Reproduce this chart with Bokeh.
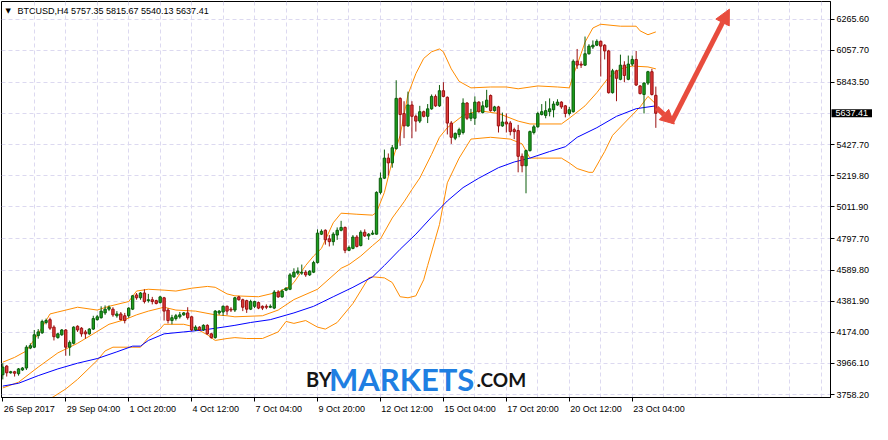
from bokeh.plotting import figure
from bokeh.models import (ColumnDataSource, Range1d, LinearAxis, FixedTicker, Grid,
                          Label, Arrow, NormalHead, NumeralTickFormatter)
from bokeh.embed import file_html
from bokeh.resources import INLINE

# ---------------- data (BTCUSD, H4) ----------------
opens = [3891, 3949, 3904, 3911, 3898, 3923, 3936, 4069, 4075, 4152,
         4171, 4240, 4259, 4209, 4139, 4158, 4190, 4075, 4101, 4215,
         4202, 4177, 4164, 4196, 4259, 4272, 4304, 4329, 4329, 4285,
         4297, 4285, 4285, 4329, 4424, 4405, 4437, 4386, 4392, 4386,
         4373, 4405, 4323, 4253, 4266, 4278, 4291, 4304, 4278, 4190,
         4209, 4190, 4221, 4164, 4139, 4304, 4310, 4348, 4329, 4323,
         4411, 4392, 4386, 4329, 4348, 4373, 4348, 4348, 4342, 4336,
         4443, 4411, 4456, 4462, 4545, 4570, 4570, 4576, 4558, 4576,
         4640, 4830, 4856, 4799, 4780, 4824, 4856, 4875, 4722, 4735,
         4811, 4754, 4843, 4818, 4830, 4830, 5109, 5204, 5338, 5306,
         5401, 5737, 5636, 5553, 5693, 5617, 5585, 5648, 5617, 5667,
         5750, 5687, 5788, 5744, 5572, 5471, 5496, 5509, 5706, 5604,
         5604, 5712, 5642, 5680, 5756, 5655, 5680, 5553, 5579, 5572,
         5528, 5522, 5350, 5287, 5388, 5509, 5547, 5629, 5623, 5648,
         5661, 5693, 5712, 5687, 5636, 5648, 5985, 5966, 5959, 6035,
         6080, 6092, 6118, 6092, 6054, 5775, 5921, 5864, 5959, 5864,
         5966, 5997, 5820, 5763, 5839, 5915, 5757.35]
highs = [3968, 3955, 3917, 3917, 3936, 3942, 4088, 4101, 4190, 4196,
         4259, 4266, 4272, 4221, 4171, 4196, 4196, 4120, 4215, 4221,
         4209, 4190, 4202, 4285, 4291, 4348, 4354, 4354, 4342, 4316,
         4310, 4304, 4342, 4424, 4437, 4443, 4462, 4431, 4411, 4392,
         4418, 4411, 4336, 4291, 4297, 4310, 4310, 4342, 4285, 4221,
         4215, 4228, 4228, 4171, 4323, 4323, 4354, 4354, 4342, 4411,
         4418, 4399, 4392, 4392, 4386, 4380, 4354, 4361, 4361, 4456,
         4456, 4462, 4475, 4570, 4602, 4608, 4627, 4589, 4589, 4652,
         4862, 4862, 4862, 4824, 4843, 4875, 4919, 4881, 4754, 4824,
         4824, 4856, 4862, 4837, 4856, 5116, 5242, 5395, 5369, 5426,
         5858, 5744, 5718, 5782, 5718, 5629, 5687, 5655, 5699, 5763,
         5763, 5826, 5845, 5750, 5585, 5509, 5541, 5737, 5712, 5667,
         5750, 5718, 5718, 5794, 5763, 5687, 5687, 5642, 5636, 5585,
         5541, 5560, 5369, 5395, 5522, 5560, 5648, 5699, 5718, 5737,
         5718, 5731, 5718, 5693, 5680, 5997, 6067, 5985, 6150, 6099,
         6124, 6131, 6124, 6099, 6061, 5934, 5928, 6029, 5985, 6023,
         6023, 6054, 5826, 5845, 5921, 5934, 5815.67]
lows = [3860, 3879, 3898, 3879, 3885, 3917, 3923, 4062, 4069, 4132,
        4164, 4228, 4190, 4120, 4132, 4151, 4018, 4018, 4094, 4177,
        4145, 4132, 4158, 4190, 4253, 4266, 4291, 4316, 4278, 4272,
        4253, 4234, 4272, 4323, 4392, 4392, 4367, 4373, 4361, 4361,
        4367, 4253, 4234, 4228, 4253, 4266, 4285, 4259, 4183, 4183,
        4183, 4183, 4158, 4132, 4132, 4291, 4285, 4291, 4310, 4310,
        4386, 4316, 4304, 4323, 4336, 4329, 4323, 4329, 4336, 4329,
        4405, 4405, 4450, 4456, 4538, 4558, 4558, 4545, 4551, 4570,
        4634, 4824, 4760, 4748, 4754, 4792, 4849, 4703, 4716, 4729,
        4741, 4748, 4811, 4792, 4824, 4827, 5096, 5198, 5223, 5274,
        5395, 5420, 5471, 5547, 5471, 5515, 5572, 5610, 5572, 5661,
        5680, 5680, 5744, 5496, 5433, 5458, 5477, 5496, 5592, 5585,
        5560, 5642, 5636, 5674, 5648, 5648, 5509, 5547, 5509, 5490,
        5465, 5243, 5243, 5103, 5382, 5496, 5541, 5623, 5604, 5617,
        5610, 5687, 5667, 5610, 5623, 5642, 5934, 5940, 5953, 6029,
        6067, 6086, 5883, 5997, 5769, 5769, 5718, 5858, 5845, 5858,
        5953, 5820, 5763, 5636, 5826, 5756, 5540.13]
closes = [3942, 3904, 3911, 3901, 3930, 3936, 4075, 4085, 4158, 4177,
          4247, 4253, 4202, 4145, 4164, 4190, 4075, 4107, 4209, 4190,
          4164, 4164, 4196, 4266, 4278, 4316, 4329, 4342, 4291, 4297,
          4259, 4253, 4336, 4418, 4405, 4437, 4380, 4392, 4380, 4367,
          4411, 4316, 4253, 4272, 4285, 4291, 4304, 4272, 4190, 4209,
          4190, 4221, 4164, 4139, 4316, 4316, 4348, 4316, 4323, 4405,
          4392, 4342, 4329, 4380, 4380, 4336, 4336, 4342, 4348, 4443,
          4411, 4450, 4469, 4558, 4576, 4583, 4576, 4558, 4583, 4640,
          4837, 4849, 4792, 4780, 4830, 4856, 4875, 4722, 4741, 4811,
          4748, 4843, 4818, 4830, 4837, 5109, 5204, 5338, 5306, 5407,
          5737, 5629, 5553, 5693, 5617, 5585, 5648, 5617, 5667, 5750,
          5687, 5788, 5750, 5572, 5477, 5503, 5528, 5706, 5604, 5636,
          5712, 5648, 5687, 5725, 5655, 5680, 5553, 5579, 5566, 5515,
          5515, 5350, 5287, 5388, 5515, 5547, 5636, 5648, 5655, 5667,
          5699, 5712, 5680, 5636, 5661, 5985, 5959, 5959, 6035, 6086,
          6092, 6118, 6086, 6054, 5775, 5921, 5871, 5959, 5890, 5966,
          5997, 5826, 5769, 5839, 5915, 5763, 5637.41]

upper_idx = [0, 3, 6, 9, 12, 14, 19, 24, 27, 32, 34, 37, 41, 44, 48, 52, 54, 57, 59, 65,
             70, 73, 74, 77, 79, 81, 84, 86, 90, 94, 95, 97, 99, 101, 103, 105, 107, 109,
             111, 112, 114, 116, 119, 124, 128, 131, 136, 141, 144, 145, 147, 148, 150,
             152, 157, 161, 162, 164, 166]
upper_val = [3975, 4007, 4050, 4164, 4297, 4310, 4342, 4323, 4348, 4380, 4450, 4462, 4456,
             4450, 4469, 4481, 4475, 4431, 4418, 4412, 4443, 4481, 4507, 4621, 4684, 4735,
             4906, 4970, 4963, 4957, 4976, 5109, 5319, 5490, 5763, 5902, 6004, 6048, 6067,
             6048, 5934, 5851, 5807, 5813, 5813, 5801, 5820, 5813, 5807, 5890, 6035, 6112,
             6207, 6232, 6219, 6219, 6188, 6162, 6181]
middle_idx = [0, 4, 9, 14, 19, 23, 27, 31, 34, 37, 41, 44, 49, 54, 57, 59, 66, 70, 74, 80,
              86, 88, 91, 94, 96, 99, 102, 104, 106, 109, 111, 113, 117, 121, 126, 131, 134,
              142, 144, 148, 151, 154, 157, 160, 164, 166]
middle_val = [3803, 3841, 3942, 4037, 4101, 4164, 4228, 4259, 4291, 4316, 4342, 4323, 4316,
              4291, 4285, 4278, 4285, 4323, 4393, 4462, 4602, 4627, 4684, 4754, 4798, 4938,
              5046, 5128, 5205, 5363, 5477, 5541, 5623, 5655, 5636, 5585, 5566, 5566, 5604,
              5687, 5775, 5877, 5934, 5953, 5947, 5934]
lower_idx = [0, 6, 10, 13, 16, 19, 24, 26, 28, 35, 37, 40, 41, 46, 48, 52, 54, 57, 59, 62,
             66, 70, 72, 74, 77, 80, 82, 85, 89, 93, 94, 97, 99, 101, 103, 105, 107, 108,
             111, 113, 116, 119, 124, 129, 132, 134, 142, 144, 146, 149, 150, 153, 155,
             158, 162, 164, 166]
lower_val = [3606, 3657, 3701, 3746, 3796, 3860, 3987, 4050, 4075, 4075, 4139, 4196, 4228,
             4228, 4215, 4158, 4120, 4133, 4139, 4133, 4133, 4177, 4247, 4234, 4253, 4209,
             4196, 4240, 4367, 4538, 4545, 4538, 4507, 4412, 4405, 4418, 4526, 4621, 4894,
             5173, 5338, 5465, 5477, 5465, 5433, 5338, 5338, 5306, 5268, 5243, 5243, 5382,
             5490, 5572, 5680, 5750, 5699]
ma_idx = [0, 4, 9, 14, 19, 24, 29, 33, 35, 37, 41, 46, 51, 56, 59, 63, 68, 74, 79, 84, 89,
          94, 97, 101, 105, 109, 113, 117, 121, 126, 130, 134, 139, 143, 146, 151, 156,
          161, 166]
ma_val = [3815, 3834, 3885, 3930, 3968, 3999, 4044, 4082, 4082, 4120, 4164, 4177, 4190,
          4209, 4221, 4240, 4259, 4304, 4348, 4412, 4475, 4545, 4621, 4729, 4830, 4944,
          5052, 5141, 5204, 5274, 5312, 5338, 5382, 5414, 5477, 5541, 5617, 5668, 5687]

date_ticks = [0, 16, 32, 48, 64, 80, 96, 112, 128, 144, 160]
date_labels = ["26 Sep 2017", "29 Sep 04:00", "1 Oct 20:00", "4 Oct 12:00", "7 Oct 04:00",
               "9 Oct 20:00", "12 Oct 12:00", "15 Oct 04:00", "17 Oct 20:00",
               "20 Oct 12:00", "23 Oct 04:00"]
price_ticks = [3758.2, 3966.1, 4174.0, 4381.9, 4589.8, 4797.7, 5011.9, 5219.8, 5427.7,
               5635.6, 5843.5, 6057.7, 6265.6]
current_price = 5637.41
title_text = "BTCUSD,H4  5757.35 5815.67 5540.13 5637.41"

# ---------------- figure ----------------
X0, X1 = -0.33, 210.4
Y0, Y1 = 3739.0, 6384.0
FONT = "Liberation Sans"
FS = 9  # px

p = figure(width=872, height=424, output_backend="svg", toolbar_location=None,
           x_range=Range1d(X0, X1), y_range=Range1d(Y0, Y1),
           x_axis_location=None, y_axis_location=None,
           min_border_left=1, min_border_top=1, min_border_right=0, min_border_bottom=0)
p.background_fill_color = "white"
p.border_fill_color = "white"
p.outline_line_color = "black"
p.outline_line_width = 1
for g in p.grid:
    g.visible = False

GRID = "#dcd9f0"
vgrid = Grid(dimension=0, ticker=FixedTicker(ticks=list(range(8, 210, 8))),
             grid_line_color=GRID, grid_line_dash="4 3", grid_line_width=1)
hgrid = Grid(dimension=1, ticker=FixedTicker(ticks=price_ticks),
             grid_line_color=GRID, grid_line_dash="4 3", grid_line_width=1)
p.add_layout(vgrid, "center")
p.add_layout(hgrid, "center")

# right price axis
yax = LinearAxis(ticker=FixedTicker(ticks=[t for t in price_ticks if t != 5635.6]),
                 formatter=NumeralTickFormatter(format="0.00"))
yax.major_tick_in = 0
yax.major_tick_out = 4
yax.minor_tick_in = 0
yax.minor_tick_out = 0
yax.major_label_standoff = 2
yax.major_label_text_font = FONT
yax.major_label_text_font_size = f"{FS}px"
yax.major_label_text_color = "black"
yax.axis_line_color = "black"
yax.major_tick_line_color = "black"
p.add_layout(yax, "right")

# bottom time axis: tick marks at the bar, label starting just right of it
# (label anchor = bar + half the label's estimated width)
CHAR_EM = {" ": 0.278, ":": 0.278, "S": 0.667, "e": 0.556, "p": 0.556,
           "O": 0.778, "c": 0.5, "t": 0.278}
px_per_bar = 832.0 / (X1 - X0)
def label_shift(s):
    w = sum(CHAR_EM.get(ch, 0.556) for ch in s) * FS
    return (1.0 + w / 2.0) / px_per_bar
label_pos = [round(t + label_shift(s), 3) for t, s in zip(date_ticks, date_labels)]

xax = LinearAxis(ticker=FixedTicker(ticks=label_pos, minor_ticks=date_ticks),
                 major_label_overrides=dict(zip(label_pos, date_labels)))
xax.major_tick_in = 0
xax.major_tick_out = 0
xax.major_tick_line_color = None
xax.minor_tick_in = 0
xax.minor_tick_out = 4
xax.minor_tick_line_color = "black"
xax.major_label_standoff = 2
xax.major_label_text_font = FONT
xax.major_label_text_font_size = f"{FS}px"
xax.major_label_text_color = "black"
xax.axis_line_color = "black"
p.add_layout(xax, "below")

# ---------------- indicators ----------------
p.line(upper_idx, upper_val, line_color="#ff8c00", line_width=1)
p.line(middle_idx, middle_val, line_color="#ff8c00", line_width=1)
p.line(lower_idx, lower_val, line_color="#ff8c00", line_width=1)
p.line(ma_idx, ma_val, line_color="#0000ff", line_width=1)

# ---------------- candles ----------------
n = len(opens)
up = [c >= o for o, c in zip(opens, closes)]
src = ColumnDataSource(dict(
    x=list(range(n)), h=highs, l=lows,
    top=[max(o, c) for o, c in zip(opens, closes)],
    bottom=[min(o, c) for o, c in zip(opens, closes)],
    fill=["#1da11d" if u else "#e23c3c" for u in up],
    edge=["#0b5c0b" if u else "#9a1010" for u in up],
))
p.segment(x0="x", y0="h", x1="x", y1="l", line_color="edge", line_width=1, source=src)
p.vbar(x="x", width=0.6, top="top", bottom="bottom", fill_color="fill",
       line_color="edge", line_width=1, source=src)

# ---------------- arrows ----------------
ARROW = "#e84c3d"
p.add_layout(Arrow(x_start=169.9, y_start=5572, x_end=184.7, y_end=6333,
                   line_color=ARROW, line_width=5,
                   end=NormalHead(size=15, fill_color=ARROW, line_color=ARROW)))
p.add_layout(Arrow(x_start=166.2, y_start=5674, x_end=170.7, y_end=5566,
                   line_color=ARROW, line_width=5,
                   end=NormalHead(size=14, fill_color=ARROW, line_color=ARROW)))

# ---------------- texts ----------------
p.add_layout(Label(x=X0, y=Y1, text="\u25bc", x_offset=4, y_offset=-9,
                   text_baseline="middle", text_font="DejaVu Sans",
                   text_font_size="7px", text_color="black"))
p.add_layout(Label(x=X0, y=Y1, text=title_text, x_offset=16, y_offset=-9,
                   text_baseline="middle", text_font=FONT, text_font_size=f"{FS}px",
                   text_color="black"))

# current-price box on the price axis (kept in a side panel so it is not clipped)
price_box = Label(x=X1, y=current_price, text="5637.41", x_offset=1,
                  text_baseline="middle", text_align="left", text_font=FONT,
                  text_font_size=f"{FS}px", text_color="white",
                  background_fill_color="black",
                  padding=dict(left=4, right=4, top=1, bottom=1))
p.add_layout(price_box, "below")

# watermark
p.add_layout(Label(x=77.1, y=3860, text="BY", text_font="Lato", text_font_style="bold",
                   text_font_size="20px", text_color="#151515", text_baseline="alphabetic"))
p.add_layout(Label(x=82.9, y=3860, text="MARKETS", text_font="Lato", text_font_style="bold",
                   text_font_size="31px", text_color="#1f7fe2", text_baseline="alphabetic"))
p.add_layout(Label(x=120.4, y=3860, text=".COM", text_font="Lato", text_font_style="bold",
                   text_font_size="19px", text_color="#151515", text_baseline="alphabetic"))

open("out.html", "w").write(file_html(p, INLINE))
